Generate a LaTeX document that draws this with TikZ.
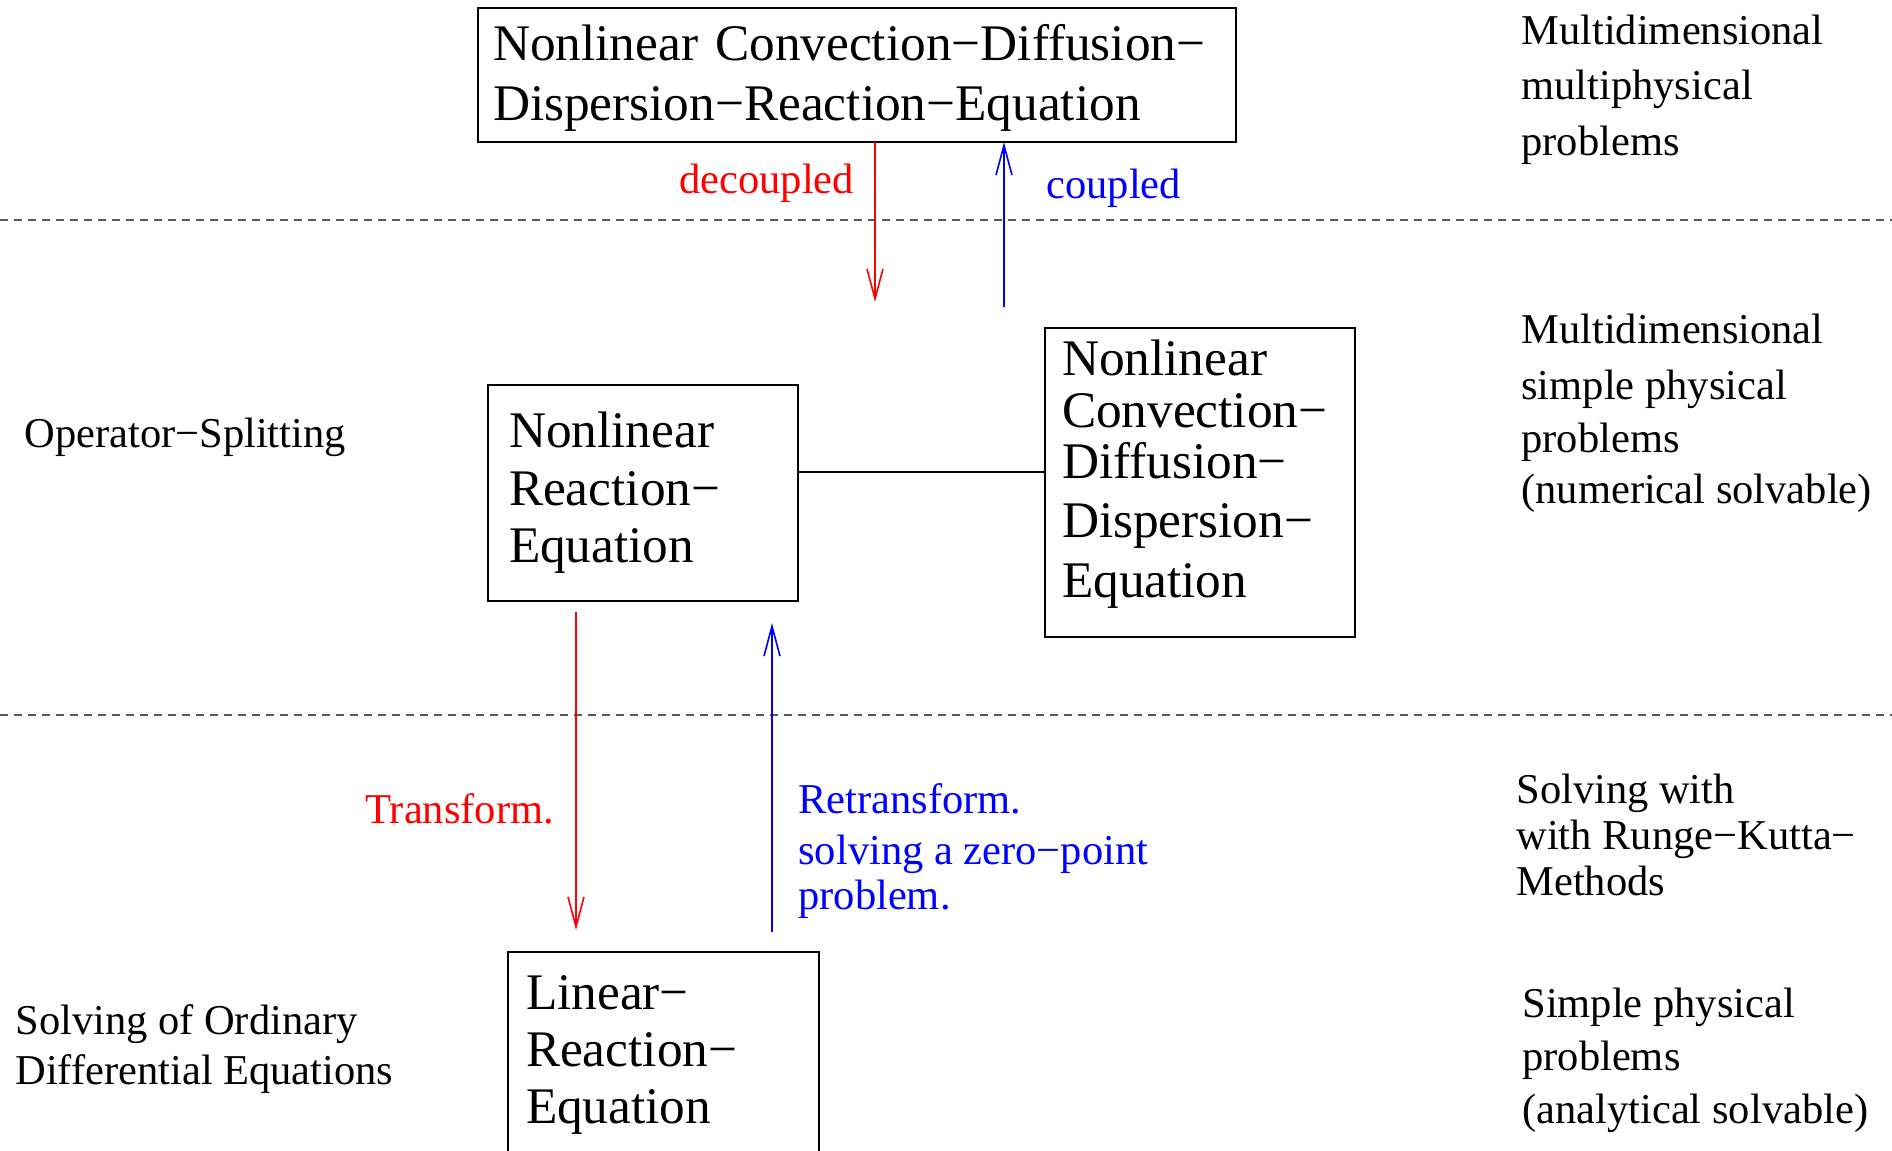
\documentclass[tikz,border=0pt]{standalone}
\usepackage{fontspec}
\setmainfont{Liberation Serif}
\usetikzlibrary{arrows.meta}

% one unit = one pixel of the 1892 x 1151 canvas, y pointing down
\newcommand\eqfont[1]{\fontsize{25.65pt}{#1}\selectfont}
\newcommand\lblfont{\fontsize{21.25pt}{26pt}\selectfont}
\newcommand\stacklines[2]{\vtop{\baselineskip=#1\relax #2}}
\definecolor{sepgray}{RGB}{90,90,90}

\tikzset{
  eqbox/.style={draw, line width=1.1pt, anchor=north west, align=left,
                inner ysep=0pt, outer sep=0pt},
  lbl/.style={font=\lblfont, inner sep=0pt, anchor=base west},
  levelsep/.style={draw=sepgray, line width=0.6pt, dash pattern=on 4pt off 3pt},
  flow/.style={line width=0.8pt, -{Straight Barb[length=15pt,width=8pt]}},
}

\begin{document}
\begin{tikzpicture}[x=0.5pt, y=-0.5pt]
  \useasboundingbox (0,0) rectangle (1892,1151);
  \clip (0,0) rectangle (1892,1151);

  % level separators
  \draw[levelsep] (0,220) -- (1892,220);
  \draw[levelsep] (0,715) -- (1892,715);

  % equation boxes
  \node[eqbox, font=\eqfont{30pt}, inner xsep=7.5pt, text width=364pt,
        minimum width=379pt, minimum height=67pt] (full) at (478,8)
    {\rule{0pt}{21pt}Nonlinear Convection−Diffusion−\\Dispersion−Reaction−Equation};

  \node[eqbox, font=\eqfont{28.75pt}, inner xsep=10.5pt, text width=134pt,
        minimum width=155pt, minimum height=108pt] (nre) at (488,385)
    {Nonlinear\\Reaction−\\Equation};

  \node[eqbox, font=\eqfont{26pt}, inner xsep=8.5pt, text width=138pt,
        minimum width=155pt, minimum height=154.5pt] (ncdd) at (1045,328)
    {Nonlinear\\[-0.25pt]Convection−\\[-0.5pt]Diffusion−\\[3.5pt]Dispersion−\\[4pt]Equation\rule[-14pt]{0pt}{0pt}};

  \node[eqbox, font=\eqfont{28.5pt}, inner xsep=9pt, text width=137.5pt,
        minimum width=155.5pt, minimum height=102.5pt] (lre) at (508,952)
    {Linear−\\Reaction−\\Equation};

  % operator-splitting link between the two sub-problems
  \coordinate (link) at (0,472);
  \draw[line width=0.8pt] (nre.east |- link) -- (ncdd.west |- link);

  % decoupling / coupling
  \coordinate (decEnd) at (875,302);
  \coordinate (cplStart) at (1004,307);
  \draw[flow, red] (full.south -| decEnd) -- (decEnd);
  \draw[flow, blue] (cplStart) -- (full.south -| cplStart);
  \node[lbl, text=red] (decLbl) at (679,193) {decoupled};
  \node[lbl, text=blue] (cplLbl) at (1046,198) {coupled};

  % transformation / retransformation
  \coordinate (trStart) at (576,612);
  \coordinate (trEnd) at (576,930);
  \coordinate (rtStart) at (772,932);
  \coordinate (rtEnd) at (772,623);
  \draw[flow, red] (trStart) -- (trEnd);
  \draw[flow, blue] (rtStart) -- (rtEnd);
  \node[lbl, text=red] (trLbl) at (365,823) {Transform.};
  \node[lbl, text=blue] (rtLbl) at (798,813)
    {\stacklines{24pt}{\hbox{Retransform.}\vskip1.5pt\hbox{solving a zero−point}\vskip-1.5pt\hbox{problem.}}};

  % left column
  \node[lbl] (opLbl) at (24,447) {Operator−Splitting};
  \node[lbl] (odeLbl) at (15,1034)
    {\stacklines{25.25pt}{\hbox{Solving of Ordinary}\hbox{Differential Equations}}};

  % right column
  \node[lbl] (lvl1) at (1521,45)
    {\stacklines{27.5pt}{\hbox{Multidimensional}\hbox{multiphysical}\hbox{problems}}};
  \node[lbl] (lvl2) at (1521,343)
    {\stacklines{28pt}{\hbox{Multidimensional}\hbox{simple physical}\vskip-1.5pt\hbox{problems}\vskip-2.5pt\hbox{(numerical solvable)}}};
  \node[lbl] (lvl3) at (1516,803)
    {\stacklines{23pt}{\hbox{Solving with}\hbox{with Runge−Kutta−}\hbox{Methods}}};
  \node[lbl] (lvl4) at (1522,1017)
    {\stacklines{26.5pt}{\hbox{Simple physical}\hbox{problems}\hbox{(analytical solvable)}}};
\end{tikzpicture}
\end{document}
